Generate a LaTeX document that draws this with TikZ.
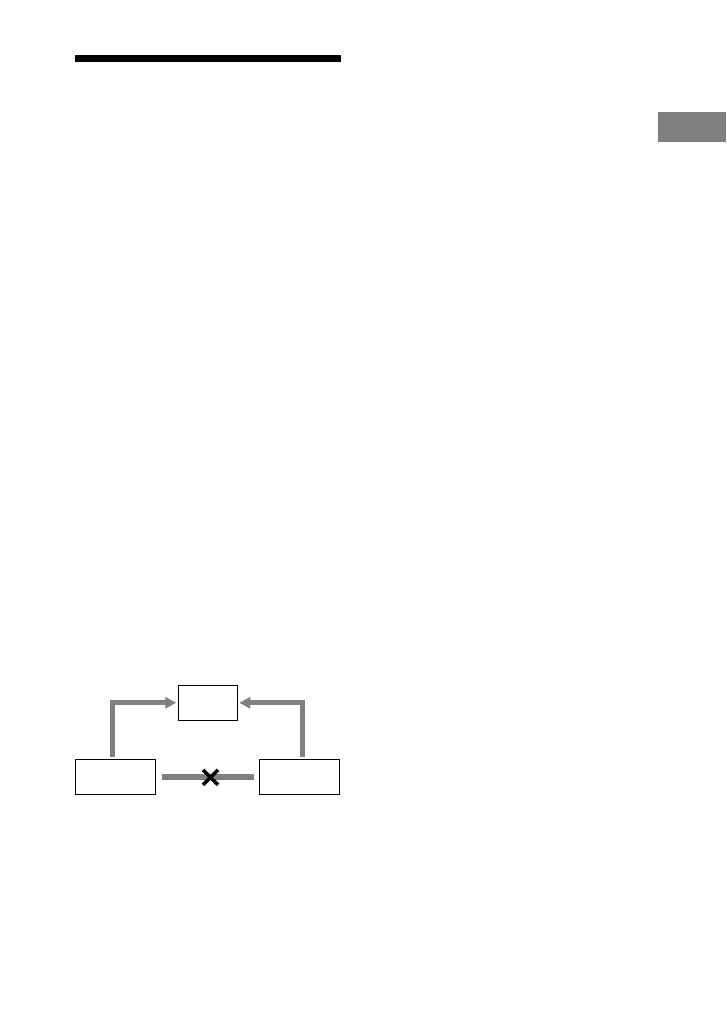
\documentclass[tikz,border=0pt]{standalone}
\usetikzlibrary{arrows.meta}
\definecolor{linegray}{RGB}{128,128,128}
\tikzset{
  unitbox/.style={draw, line width=0.9pt, inner sep=0pt},
  flow/.style={draw=linegray, line width=5pt, -{Triangle[length=11pt,width=11pt]}},
  link/.style={draw=linegray, line width=6.5pt},
  cutmark/.style={draw, line width=3.6pt},
}
\begin{document}
\begin{tikzpicture}[x=1pt,y=-1pt]
\useasboundingbox (0,0) rectangle (726,1032);

% heading rule and side tab
\fill (75,55) rectangle (341,62.5);
\fill[linegray] (657.5,112.5) rectangle (726,142);

% boxes
\node[unitbox, minimum width=59pt, minimum height=35.5pt] (top) at (207.8,702.8) {};
\node[unitbox, minimum width=80.5pt, minimum height=35pt] (left) at (115.3,776.8) {};
\node[unitbox, minimum width=80pt, minimum height=35pt] (right) at (299.3,776.8) {};

% arrows into the top box
\draw[flow, shorten >=1.5pt] ([xshift=-2.8pt,yshift=1.5pt]left.north) |- (top.west);
\draw[flow, shorten >=1.5pt] ([xshift=3.2pt,yshift=1.5pt]right.north) |- (top.east);

% broken link
\draw[link, shorten <=5.5pt, shorten >=4.5pt] (left) -- (right);
\coordinate (cut) at (210.5,777.3);
\draw[cutmark] ([shift={(-7.5,-7.5)}]cut) -- ([shift={(7.5,7.5)}]cut);
\draw[cutmark] ([shift={(-7.5,7.5)}]cut) -- ([shift={(7.5,-7.5)}]cut);
\end{tikzpicture}
\end{document}
